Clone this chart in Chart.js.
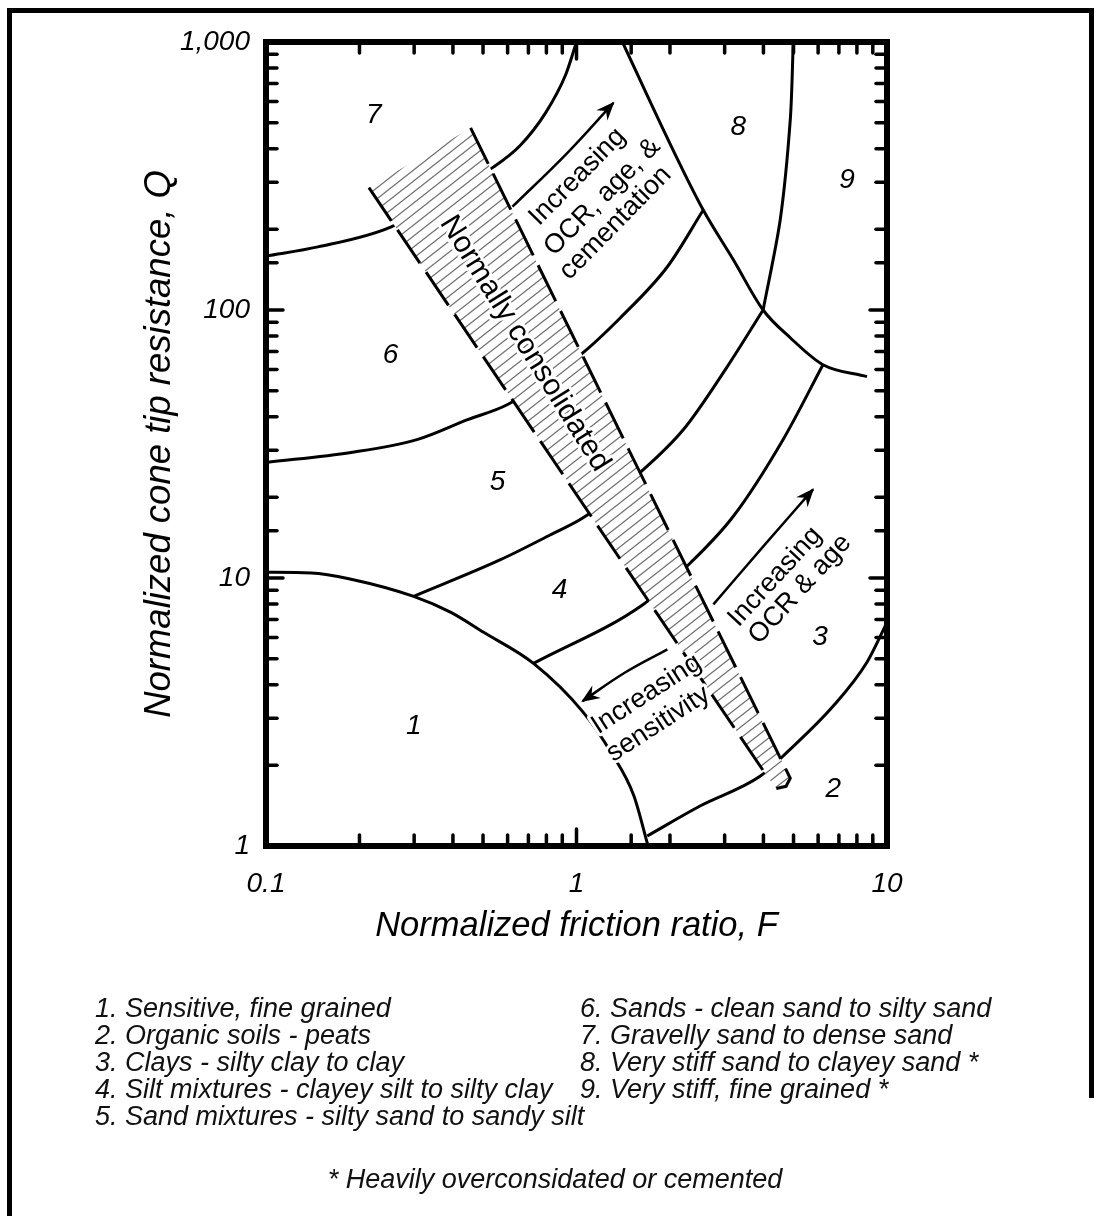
<!DOCTYPE html>
<html>
<head>
<meta charset="utf-8">
<script src="https://cdn.jsdelivr.net/npm/chart.js@4.4.1/dist/chart.umd.min.js"></script>
<style>
  html, body { margin: 0; padding: 0; background: #fff; }
  #wrap { position: relative; width: 1101px; height: 1216px; overflow: hidden; }
  .edge { position: absolute; background: #000; }
  canvas { position: absolute; left: 0; top: 0; }
  .legend { position: absolute; font: italic 27px "Liberation Sans", Arial, sans-serif; line-height: 27px; color: #111; white-space: nowrap; }
</style>
</head>
<body>
<div id="wrap">
  <div class="edge" style="left:7px; top:8px; width:1087px; height:5px;"></div>
  <div class="edge" style="left:7px; top:8px; width:5px; height:1208px;"></div>
  <div class="edge" style="left:1089px; top:8px; width:5px; height:1090px;"></div>
  <canvas id="chart" width="1101" height="1216"></canvas>
  <div class="legend" id="legLeft" style="left:95px; top:995px;"></div>
  <div class="legend" id="legRight" style="left:580px; top:995px;"></div>
  <div class="legend" id="foot" style="left:0; width:1110px; text-align:center; top:1166px;"></div>
</div>
<script>
// axes
const xTickValues = [0.1, 1, 10];
const xTickText = ['0.1', '1', '10'];
const yTickValues = [1, 10, 100, 1000];
const yTickText = ['1', '10', '100', '1,000'];

// zone boundaries as [F, Q]
const zone1Edge = [[0.1, 10.5], [0.14, 10.45], [0.188, 9.9], [0.299, 8.54], [0.394, 7.44], [0.502, 6.27], [0.727, 4.8], [1.05, 3.16], [1.29, 2.24], [1.53, 1.54], [1.70, 1.0]];
const zone2Edge = [[1.69, 1.09], [2.5, 1.41], [3.9, 1.82], [4.77, 2.24], [6.7, 3.32], [8.62, 4.85], [10, 6.83]];
const zone34Edge = [[0.727, 4.8], [1.64, 7.97], [2.33, 11.4], [3.2, 17.0], [4.63, 32.9], [6.22, 62.5]];
const zone45Edge = [[0.299, 8.54], [0.569, 11.7], [0.825, 14.5], [1.053, 16.8], [1.606, 24.8], [2.21, 35.8], [3.06, 61.5], [3.99, 100]];
const zone56Edge = [[0.1, 27], [0.188, 29.4], [0.308, 32.9], [0.446, 39], [0.6, 44.4], [1.03, 68.1], [1.385, 93.6], [1.962, 145], [2.56, 236]];
const zone67Edge = [[0.1, 159], [0.147, 172], [0.252, 204], [0.541, 342], [0.661, 413], [0.795, 544], [0.922, 753], [1.0, 1000]];
const zone8Edge = [[1.406, 1000], [1.905, 470], [2.56, 236], [3.2, 154], [3.99, 100], [4.88, 78.8], [6.22, 62.5], [8.62, 56.4]];
const zone89Edge = [[4.99, 1000], [4.88, 512], [4.53, 217], [3.99, 100]];

// normally consolidated band
const ncLeft = [[0.2145, 286], [4.11, 1.82]];
const ncRight = [[0.456, 478], [4.88, 1.79], [4.73, 1.67], [4.40, 1.64]];
const ncBand = [[0.2145, 286], [0.456, 478], [4.88, 1.79], [4.73, 1.67], [4.40, 1.64], [4.11, 1.82]];

// trend arrows (tail -> head)
const arrowCementation = [[0.622, 243], [0.935, 386], [1.315, 593]];
const arrowAge = [[2.76, 7.97], [3.99, 13.1], [5.78, 21.4]];
const arrowSensitivity = [[1.962, 5.42], [1.438, 4.45], [1.045, 3.47]];

// zone numbers
const zoneIds = ['1', '2', '3', '4', '5', '6', '7', '8', '9'];
const zoneLabelF = [0.299, 6.71, 6.09, 0.882, 0.557, 0.252, 0.2225, 3.32, 7.44];
const zoneLabelQ = [2.80, 1.63, 6.01, 8.99, 22.7, 68.1, 535, 482, 306];
const zoneNames = [
  'Sensitive, fine grained',
  'Organic soils - peats',
  'Clays - silty clay to clay',
  'Silt mixtures - clayey silt to silty clay',
  'Sand mixtures - silty sand to sandy silt',
  'Sands - clean sand to silty sand',
  'Gravelly sand to dense sand',
  'Very stiff sand to clayey sand *',
  'Very stiff, fine grained *'
];
const footnote = '* Heavily overconsidated or cemented';

const notes = [
  { text: 'Normally consolidated', f: 0.681, q: 74.9, angle: 58, size: 30 },
  { text: 'Increasing', f: 1.007, q: 314, angle: -45.5, size: 27 },
  { text: 'OCR, age, &', f: 1.212, q: 264, angle: -45.5, size: 27 },
  { text: 'cementation', f: 1.335, q: 211, angle: -45.5, size: 27 },
  { text: 'Increasing', f: 4.36, q: 10.1, angle: -47.5, size: 27 },
  { text: 'OCR & age', f: 5.25, q: 9.07, angle: -47.5, size: 27 },
  { text: 'Increasing', f: 1.68, q: 3.68, angle: -33, size: 27 },
  { text: 'sensitivity', f: 1.835, q: 2.85, angle: -33, size: 27 }
];

const FONT = '"Liberation Sans", Arial, Helvetica, sans-serif';
Chart.defaults.font.family = FONT;
Chart.defaults.color = '#000';

const pts = arr => arr.map(p => ({ x: p[0], y: p[1] }));

function hatch() {
  const w = 14, h = 11;
  const c = document.createElement('canvas');
  c.width = w; c.height = h;
  const g = c.getContext('2d');
  g.fillStyle = '#fff';
  g.fillRect(0, 0, w, h);
  g.strokeStyle = '#707070';
  g.lineWidth = 1.3;
  [-w, 0, w].forEach(dx => {
    g.beginPath();
    g.moveTo(dx - w, 2 * h);
    g.lineTo(dx + 2 * w, -h);
    g.stroke();
  });
  return g.createPattern(c, 'repeat');
}

function tickLabel(values, texts) {
  return v => {
    const i = values.findIndex(t => Math.abs(Math.log10(v) - Math.log10(t)) < 1e-6);
    return i < 0 ? '' : texts[i];
  };
}
const isDecade = v => Math.abs(Math.log10(v) - Math.round(Math.log10(v))) < 1e-6;

function curve(data, extra) {
  return Object.assign({
    data: pts(data), showLine: true, borderColor: '#000', borderWidth: 3,
    pointRadius: 0, cubicInterpolationMode: 'monotone', fill: false, order: 5
  }, extra || {});
}

const datasets = [
  curve(zone1Edge), curve(zone2Edge), curve(zone34Edge), curve(zone45Edge),
  curve(zone56Edge), curve(zone67Edge), curve(zone8Edge),
  curve(zone89Edge, { cubicInterpolationMode: 'default', tension: 0.3 }),
  curve(ncBand, { borderWidth: 0, borderColor: 'rgba(0,0,0,0)', cubicInterpolationMode: 'default', tension: 0, fill: 'shape', backgroundColor: hatch(), order: 3 }),
  curve(ncLeft, { cubicInterpolationMode: 'default', tension: 0, borderDash: [40, 11], order: 2 }),
  curve(ncRight, { cubicInterpolationMode: 'default', tension: 0, borderDash: [40, 11], order: 2 }),
  curve(arrowCementation, { borderWidth: 2.5, cubicInterpolationMode: 'default', tension: 0.4, order: 1, arrow: true }),
  curve(arrowAge, { borderWidth: 2.5, cubicInterpolationMode: 'default', tension: 0.4, order: 1, arrow: true }),
  curve(arrowSensitivity, { borderWidth: 2.5, cubicInterpolationMode: 'default', tension: 0.4, order: 1, arrow: true })
];

const decorations = {
  id: 'decorations',
  afterDatasetsDraw(chart) {
    const { ctx, chartArea: a, scales: { x, y } } = chart;
    ctx.save();

    // arrowheads
    chart.data.datasets.forEach((ds, i) => {
      if (!ds.arrow) return;
      const el = chart.getDatasetMeta(i).data;
      const p1 = el[el.length - 2], p2 = el[el.length - 1];
      const ang = Math.atan2(p2.y - p1.y, p2.x - p1.x);
      ctx.save();
      ctx.translate(p2.x, p2.y);
      ctx.rotate(ang);
      ctx.fillStyle = '#000';
      ctx.beginPath();
      ctx.moveTo(1.5, 0);
      ctx.lineTo(-17, -7.5);
      ctx.lineTo(-11, 0);
      ctx.lineTo(-17, 7.5);
      ctx.closePath();
      ctx.fill();
      ctx.restore();
    });

    // zone numbers
    ctx.fillStyle = '#000';
    ctx.font = 'italic 28px ' + FONT;
    ctx.textAlign = 'center';
    ctx.textBaseline = 'middle';
    zoneIds.forEach((id, i) => {
      ctx.fillText(id, x.getPixelForValue(zoneLabelF[i]), y.getPixelForValue(zoneLabelQ[i]));
    });

    // rotated notes
    notes.forEach(n => {
      ctx.save();
      ctx.translate(x.getPixelForValue(n.f), y.getPixelForValue(n.q));
      ctx.rotate(n.angle * Math.PI / 180);
      ctx.font = n.size + 'px ' + FONT;
      ctx.lineJoin = 'round';
      ctx.strokeStyle = '#fff';
      ctx.lineWidth = 6;
      ctx.strokeText(n.text, 0, 0);
      ctx.fillStyle = '#000';
      ctx.fillText(n.text, 0, 0);
      ctx.restore();
    });

    // inward ticks on all four sides
    ctx.strokeStyle = '#000';
    ctx.lineWidth = 3.5;
    ctx.lineCap = 'round';
    const seg = (x1, y1, x2, y2) => { ctx.beginPath(); ctx.moveTo(x1, y1); ctx.lineTo(x2, y2); ctx.stroke(); };
    x.ticks.forEach(t => {
      const px = x.getPixelForValue(t.value);
      if (px < a.left + 2 || px > a.right - 2) return;
      const len = isDecade(t.value) ? 17 : 11;
      seg(px, a.bottom, px, a.bottom - len);
      seg(px, a.top, px, a.top + len);
    });
    y.ticks.forEach(t => {
      const py = y.getPixelForValue(t.value);
      if (py < a.top + 2 || py > a.bottom - 2) return;
      const len = isDecade(t.value) ? 17 : 11;
      seg(a.left, py, a.left + len, py);
      seg(a.right, py, a.right - len, py);
    });

    // plot frame
    ctx.lineWidth = 6;
    ctx.lineCap = 'square';
    ctx.strokeRect(a.left, a.top, a.right - a.left, a.bottom - a.top);
    ctx.restore();
  }
};

new Chart(document.getElementById('chart'), {
  type: 'scatter',
  data: { datasets },
  options: {
    responsive: false,
    animation: false,
    layout: { padding: { top: 42, right: 214, left: 0, bottom: 0 } },
    plugins: { legend: { display: false }, tooltip: { enabled: false } },
    scales: {
      x: {
        type: 'logarithmic', min: 0.1, max: 10,
        grid: { display: false },
        border: { display: false },
        ticks: { autoSkip: false, maxRotation: 0, padding: 13, font: { size: 28, style: 'italic' }, callback: tickLabel(xTickValues, xTickText) },
        title: { display: true, text: 'Normalized friction ratio, F', font: { size: 34.5, style: 'italic' }, padding: { top: 0, bottom: 269 } },
        afterFit: s => { s.height = 370; }
      },
      y: {
        type: 'logarithmic', min: 1, max: 1000,
        grid: { display: false },
        border: { display: false },
        ticks: { autoSkip: false, padding: 8, font: { size: 28, style: 'italic' }, callback: tickLabel(yTickValues, yTickText) },
        title: { display: true, text: 'Normalized cone tip resistance, Q', font: { size: 36.5, style: 'italic' }, padding: { top: 138, bottom: 0 } },
        afterFit: s => { s.width = 266; }
      }
    }
  },
  plugins: [decorations]
});

// legend text
const line = (i) => (i + 1) + '. ' + zoneNames[i];
document.getElementById('legLeft').innerHTML = [0, 1, 2, 3, 4].map(line).join('<br>');
document.getElementById('legRight').innerHTML = [5, 6, 7, 8].map(line).join('<br>');
document.getElementById('foot').textContent = footnote;
</script>
</body>
</html>
